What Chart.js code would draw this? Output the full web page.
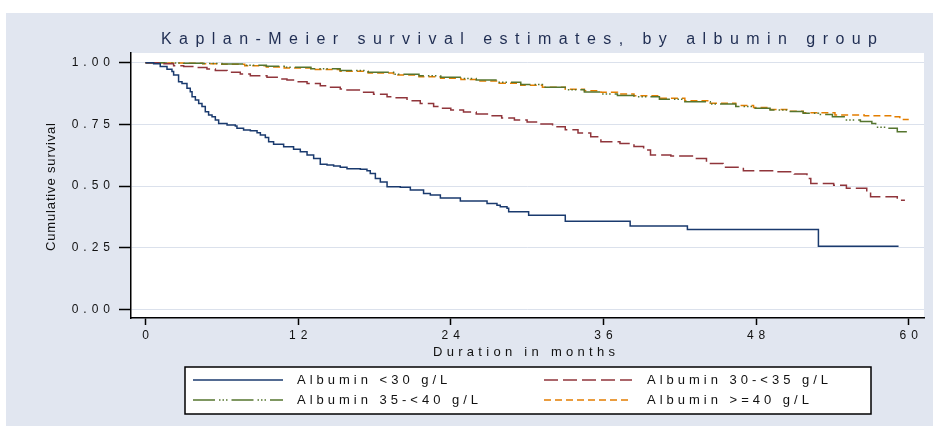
<!DOCTYPE html>
<html>
<head>
<meta charset="utf-8">
<script src="https://cdn.jsdelivr.net/npm/chart.js@4.4.1/dist/chart.umd.min.js"></script>
<style>
  html, body { margin: 0; padding: 0; background: #fff; }
  #wrap { width: 933px; height: 426px; }
</style>
</head>
<body>
<div id="wrap"><canvas id="km"></canvas></div>
<script>
// --- data ---
const xTicks = [0, 12, 24, 36, 48, 60];
const yTicks = [0, 0.25, 0.5, 0.75, 1];
const groupLabels = ['Albumin <30 g/L', 'Albumin 30-<35 g/L', 'Albumin 35-<40 g/L', 'Albumin >=40 g/L'];

// Albumin <30
const tA = [0, 0.64, 1.16, 1.69, 2.08, 2.21, 2.60, 2.87, 3.26, 3.52, 3.66, 3.92, 4.18, 4.44, 4.70, 4.96, 5.23, 5.49, 5.75, 6.41, 7.06, 7.19, 7.71, 8.24, 8.77, 9.03, 9.42, 9.68, 10.07, 10.86, 11.64, 12.17, 12.70, 13.22, 13.74, 14.27, 14.79, 15.31, 15.84, 16.89, 17.41, 17.67, 18.07, 18.46, 18.99, 20.03, 20.82, 21.86, 22.39, 23.18, 24.75, 26.85, 27.63, 27.89, 28.42, 28.55, 30.12, 33.0, 38.1, 42.6, 52.9, 59.2];
const sA = [1.0, 0.995, 0.984, 0.973, 0.964, 0.950, 0.923, 0.916, 0.896, 0.882, 0.862, 0.849, 0.835, 0.822, 0.801, 0.788, 0.781, 0.768, 0.754, 0.747, 0.743, 0.734, 0.727, 0.724, 0.716, 0.707, 0.697, 0.680, 0.670, 0.659, 0.649, 0.639, 0.626, 0.612, 0.589, 0.585, 0.581, 0.576, 0.570, 0.568, 0.562, 0.551, 0.531, 0.517, 0.497, 0.495, 0.484, 0.470, 0.464, 0.452, 0.440, 0.430, 0.423, 0.416, 0.410, 0.396, 0.382, 0.358, 0.339, 0.324, 0.257, 0.257];

// Albumin 30-<35
const tB = [0, 1.16, 2.21, 3.0, 3.78, 4.83, 5.49, 6.41, 7.45, 8.24, 9.55, 10.6, 11.12, 11.91, 12.7, 13.74, 14.27, 15.31, 15.84, 16.89, 17.93, 18.99, 19.5, 20.56, 21.6, 22.65, 23.18, 24.0, 25.0, 26.0, 27.0, 28.0, 29.0, 30.0, 31.0, 32.0, 33.0, 34.0, 35.0, 35.8, 37.3, 38.4, 39.16, 39.7, 41.3, 43.1, 44.1, 45.4, 47.0, 49.4, 51.0, 52.0, 52.3, 54.1, 55.1, 56.7, 57.0, 59.1, 59.7];
const sB = [1.0, 0.995, 0.987, 0.984, 0.980, 0.974, 0.968, 0.961, 0.954, 0.947, 0.941, 0.934, 0.930, 0.923, 0.916, 0.906, 0.900, 0.893, 0.889, 0.880, 0.872, 0.862, 0.858, 0.846, 0.835, 0.822, 0.815, 0.808, 0.800, 0.792, 0.785, 0.776, 0.768, 0.760, 0.752, 0.740, 0.728, 0.715, 0.700, 0.680, 0.673, 0.660, 0.646, 0.626, 0.622, 0.612, 0.592, 0.576, 0.562, 0.558, 0.549, 0.531, 0.511, 0.504, 0.491, 0.477, 0.457, 0.443, 0.443];

// Albumin 35-<40
const tC = [0, 1.5, 3, 4.5, 6, 7.8, 9.5, 10.9, 13, 15.3, 17.5, 19.5, 21.5, 23.2, 24.8, 26, 27.8, 29.5, 31.2, 33, 34.5, 35.8, 37.1, 38.4, 40.4, 42.4, 44.4, 46.4, 47.8, 49.1, 50.5, 51.7, 52.9, 54.0, 55.1, 56.2, 57.1, 57.4, 58.2, 59.1, 60.0];
const sC = [1.0, 0.999, 0.997, 0.996, 0.994, 0.989, 0.985, 0.981, 0.975, 0.968, 0.961, 0.953, 0.947, 0.941, 0.936, 0.930, 0.921, 0.911, 0.900, 0.890, 0.881, 0.873, 0.867, 0.862, 0.852, 0.842, 0.832, 0.822, 0.815, 0.808, 0.802, 0.795, 0.790, 0.781, 0.768, 0.762, 0.754, 0.738, 0.734, 0.720, 0.718];

// Albumin >=40
const tD = [0, 1.5, 3, 4.5, 6, 7.8, 9.5, 10.9, 13, 15.3, 17.5, 19.5, 21.5, 23.2, 24.8, 26, 27.8, 29.5, 31.2, 33, 34.5, 35.8, 37.1, 38.4, 40.4, 42.4, 44.4, 46.4, 47.8, 49.1, 50.5, 51.7, 54.2, 56.5, 58.8, 59.3, 60.0];
const sD = [1.0, 0.999, 0.997, 0.995, 0.993, 0.987, 0.982, 0.978, 0.972, 0.965, 0.958, 0.950, 0.943, 0.937, 0.932, 0.926, 0.917, 0.908, 0.900, 0.892, 0.886, 0.880, 0.873, 0.866, 0.856, 0.846, 0.836, 0.826, 0.818, 0.810, 0.803, 0.797, 0.788, 0.785, 0.781, 0.770, 0.770];

const FONT = '"Liberation Sans", Arial, sans-serif';
const pair = (t, s) => t.map((v, i) => ({ x: v, y: s[i] }));

// text stretched out to a given width, stata style
function spaced(ctx, text, x, y, width, size, color) {
    ctx.font = size + 'px ' + FONT;
    ctx.letterSpacing = '0px';
    const w = ctx.measureText(text).width;
    const sp = text.length > 1 ? (width - w) / (text.length - 1) : 0;
    ctx.letterSpacing = sp + 'px';
    ctx.fillStyle = color;
    ctx.textAlign = 'left';
    ctx.textBaseline = 'middle';
    ctx.fillText(text, x, y);
    ctx.letterSpacing = '0px';
}

const stataFrame = {
    id: 'stataFrame',
    beforeDraw(chart) {
        const { ctx, chartArea: a } = chart;
        ctx.save();
        ctx.fillStyle = '#fff';
        ctx.fillRect(0, 0, chart.width, chart.height);
        ctx.fillStyle = '#e1e6f0';
        ctx.fillRect(6, 13, chart.width - 6, chart.height - 13);
        ctx.fillStyle = '#fff';
        ctx.fillRect(a.left, a.top, a.right - a.left, a.bottom - a.top);
        ctx.restore();
        ctx.letterSpacing = '5px'; // spaced tick labels
    },
    afterDraw(chart) {
        const ctx = chart.ctx;
        ctx.letterSpacing = '0px';
        ctx.save();
        spaced(ctx, 'Kaplan-Meier survival estimates, by albumin group', 161, 40, 716, 16, '#1f2d52');
        spaced(ctx, 'Duration in months', 433, 352, 182, 13, '#111');

        ctx.save();
        ctx.translate(51, 251);
        ctx.rotate(-Math.PI / 2);
        spaced(ctx, 'Cumulative survival', 0, 0, 128, 13, '#111');
        ctx.restore();

        // legend box
        ctx.fillStyle = '#fff';
        ctx.fillRect(185, 367, 686, 47);
        ctx.strokeStyle = '#000';
        ctx.lineWidth = 1.5;
        ctx.strokeRect(185, 367, 686, 47);

        const sw = [[193, 283], [544, 632]];
        const tx = [297, 647];
        const ry = [380, 400];
        chart.data.datasets.forEach((ds, i) => {
            const c = i % 2, r = Math.floor(i / 2);
            ctx.strokeStyle = ds.borderColor;
            ctx.lineWidth = ds.borderWidth;
            ctx.setLineDash(ds.borderDash || []);
            ctx.beginPath();
            ctx.moveTo(sw[c][0], ry[r]);
            ctx.lineTo(sw[c][1], ry[r]);
            ctx.stroke();
            ctx.setLineDash([]);
            ctx.font = '13px ' + FONT;
            ctx.letterSpacing = '4px';
            ctx.fillStyle = '#111';
            ctx.textAlign = 'left';
            ctx.textBaseline = 'middle';
            ctx.fillText(ds.label, tx[c], ry[r]);
            ctx.letterSpacing = '0px';
        });
        ctx.restore();
    }
};

new Chart(document.getElementById('km'), {
    type: 'line',
    data: {
        datasets: [
            { label: groupLabels[0], data: pair(tA, sA), borderColor: '#1a3a6e', borderDash: [] },
            { label: groupLabels[1], data: pair(tB, sB), borderColor: '#90353b', borderDash: [14, 5] },
            { label: groupLabels[2], data: pair(tC, sC), borderColor: '#55752f', borderDash: [22, 4, 1.5, 2, 1.5, 2, 1.5, 4] },
            { label: groupLabels[3], data: pair(tD, sD), borderColor: '#e37e00', borderDash: [7, 4] }
        ].map(d => Object.assign(d, { borderWidth: 1.5, stepped: true, pointRadius: 0, fill: false, tension: 0 }))
    },
    options: {
        responsive: true,
        maintainAspectRatio: false,
        devicePixelRatio: 1,
        animation: false,
        layout: { padding: { left: 6, top: 53, right: 9, bottom: 78 } },
        plugins: { legend: { display: false }, title: { display: false }, tooltip: { enabled: false } },
        scales: {
            x: {
                type: 'linear', min: -1.14, max: 61.2,
                afterBuildTicks: s => { s.ticks = xTicks.map(v => ({ value: v })); },
                afterFit: s => { s.height = 30; },
                ticks: { autoSkip: false, maxRotation: 0, color: '#111', font: { family: FONT, size: 12 }, padding: 3, labelOffset: 2.5, callback: v => String(v) },
                grid: { display: true, drawOnChartArea: false, drawTicks: true, tickLength: 7, tickColor: '#000', tickWidth: 1.5 },
                border: { display: true, color: '#000', width: 1.5 }
            },
            y: {
                type: 'linear', min: -0.034, max: 1.039,
                afterBuildTicks: s => { s.ticks = yTicks.map(v => ({ value: v })); },
                afterFit: s => { s.width = 125; },
                ticks: { autoSkip: false, color: '#111', font: { family: FONT, size: 12 }, padding: 4, callback: v => v.toFixed(2) },
                grid: { color: '#dbe1ec', lineWidth: 1, tickLength: 12, tickColor: '#000', tickWidth: 1.5 },
                border: { display: true, color: '#000', width: 1.5 }
            }
        }
    },
    plugins: [stataFrame]
});
</script>
</body>
</html>
